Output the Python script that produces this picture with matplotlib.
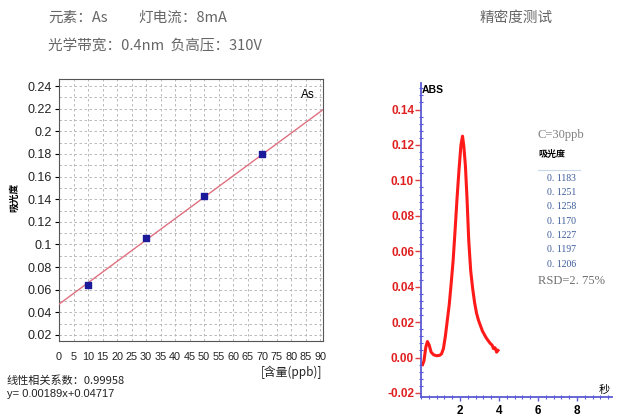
import matplotlib
matplotlib.use("Agg")
import matplotlib.pyplot as plt
from matplotlib.ticker import MultipleLocator, FixedLocator
import numpy as np

plt.rcParams["font.family"] = ["Liberation Sans", "Noto Sans CJK SC", "DejaVu Sans"]

# calibration curve
calib_conc = [10, 30, 50, 70]
calib_abs = [0.064, 0.106, 0.143, 0.180]
slope = 0.00189
intercept = 0.04717
r_value = 0.99958
x_ticks = list(range(0, 95, 5))
y_ticks = [0.02, 0.04, 0.06, 0.08, 0.10, 0.12, 0.14, 0.16, 0.18, 0.20, 0.22, 0.24]

# precision test peak
peak_time = [0.08, 0.15, 0.25, 0.33, 0.42, 0.52, 0.65, 0.8, 0.95, 1.05, 1.15, 1.25,
             1.35, 1.45, 1.55, 1.65, 1.75, 1.85, 1.95, 2.05, 2.13, 2.2, 2.28, 2.36,
             2.45, 2.55, 2.65, 2.75, 2.85, 2.95, 3.05, 3.15, 3.25, 3.35, 3.45, 3.55,
             3.65, 3.72, 3.8, 3.88, 3.95]
peak_abs = [-0.004, -0.002, 0.006, 0.009, 0.007, 0.003, 0.0015, 0.001, 0.0012, 0.002,
            0.005, 0.012, 0.021, 0.030, 0.042, 0.055, 0.072, 0.090, 0.106, 0.120,
            0.125, 0.119, 0.108, 0.090, 0.066, 0.049, 0.039, 0.031, 0.025, 0.021,
            0.018, 0.015, 0.013, 0.011, 0.0095, 0.008, 0.007, 0.005, 0.0055, 0.003,
            0.004]
repeat_abs = [0.1183, 0.1251, 0.1258, 0.1170, 0.1227, 0.1197, 0.1206]
rsd_text = "RSD=2. 75%"

W, H = 628, 417
fig = plt.figure(figsize=(W / 100, H / 100), dpi=100)


def px(x, y):
    return x / W, 1 - y / H


def ax_rect(x0, y0, x1, y1):
    return [x0 / W, 1 - y1 / H, (x1 - x0) / W, (y1 - y0) / H]


# header
head = dict(color="#666666", fontsize=10.5, family=["Noto Sans CJK SC", "DejaVu Sans"], va="center")
fig.text(*px(48, 18), "元素：As", **head)
fig.text(*px(138, 18), "灯电流：8mA", **head)
fig.text(*px(480, 18), "精密度测试", **head)
fig.text(*px(48, 46), "光学带宽：0.4nm  负高压：310V", **head)

# left: calibration
ax = fig.add_axes(ax_rect(59, 79, 323, 341))
xs = np.array([0, 91])
ax.plot(xs, slope * xs + intercept, color="#e07080", lw=1.0, zorder=3)
ax.scatter(calib_conc, calib_abs, marker="s", s=14, color="#1a1a9a", zorder=4)
ax.set_xlim(0, 91)
ax.set_ylim(0.0146, 0.2463)
ax.xaxis.set_major_locator(FixedLocator(x_ticks))
ax.yaxis.set_major_locator(FixedLocator(y_ticks))
ax.yaxis.set_minor_locator(MultipleLocator(0.01))
ax.set_xticklabels([str(v) for v in x_ticks], fontsize=7.8, color="#222222")
ax.set_yticklabels([f"{v:g}" for v in y_ticks], fontsize=9, color="#222222")
ax.tick_params(axis="x", length=0, pad=8)
ax.tick_params(axis="y", which="major", length=3, pad=2)
ax.tick_params(axis="y", which="minor", length=0)
ax.grid(which="both", color="#b0b0b0", lw=0.6, ls=(0, (3, 3)))
for s in ax.spines.values():
    s.set_color("#555555")
    s.set_linewidth(0.8)
ax.text(0.97, 0.96, "As", transform=ax.transAxes, ha="right", va="top", fontsize=8.5)

fig.text(*px(14, 197), "吸光度", rotation=90, ha="center", va="center", fontsize=7,
         fontweight="bold", family=["Noto Sans CJK SC", "DejaVu Sans"])
fig.text(*px(322, 372), "[含量(ppb)]", ha="right", va="center", fontsize=8.5,
         family=["Noto Sans CJK SC", "DejaVu Sans"], color="#222222")
fig.text(*px(7, 381), f"线性相关系数：{r_value}", ha="left", va="center", fontsize=8,
         family=["Noto Sans CJK SC", "DejaVu Sans"], color="#222222")
fig.text(*px(7, 394), f"y= {slope}x+{intercept}", ha="left", va="center", fontsize=8,
         color="#222222")

# right: precision peak
blue = "#5a5ad6"
ax2 = fig.add_axes(ax_rect(421, 83, 612, 397))
ax2.plot(peak_time, peak_abs, color="#ff1a1a", lw=2.2, solid_joinstyle="round")
ax2.set_xlim(0, 9.8)
ax2.set_ylim(-0.0223, 0.155)
ax2.spines["top"].set_visible(False)
ax2.spines["right"].set_visible(False)
for s in ("left", "bottom"):
    ax2.spines[s].set_color(blue)
    ax2.spines[s].set_linewidth(1.3)
ax2.xaxis.set_major_locator(FixedLocator([2, 4, 6, 8]))
ax2.xaxis.set_minor_locator(MultipleLocator(0.4))
ax2.yaxis.set_minor_locator(MultipleLocator(0.004))
y2_ticks = [-0.02, 0.0, 0.02, 0.04, 0.06, 0.08, 0.10, 0.12, 0.14]
ax2.set_yticks(y2_ticks)
ax2.set_yticklabels([f"{v:.2f}" for v in y2_ticks], fontsize=8.5, fontweight="bold",
                    color="#e02020")
ax2.set_xticklabels(["2", "4", "6", "8"], fontsize=8.5, fontweight="bold")
ax2.tick_params(axis="y", which="major", length=4, width=1, color="#e04040", pad=1)
ax2.tick_params(axis="x", which="major", length=3, width=1, color=blue, pad=3)
ax2.tick_params(which="minor", length=3, width=0.8, color=blue, direction="inout")

fig.text(*px(422, 90), "ABS", ha="left", va="center", fontsize=7.5, fontweight="bold")
fig.text(*px(604, 390), "秒", ha="center", va="center", fontsize=8,
         family=["Noto Sans CJK SC", "DejaVu Sans"])

serif = ["Liberation Serif", "DejaVu Serif"]
fig.text(*px(537, 135), "C=30ppb", ha="left", va="center", fontsize=9, color="#808080",
         family=serif)
fig.text(*px(538, 154), "吸光度", ha="left", va="center", fontsize=6.5, fontweight="bold",
         family=["Noto Sans CJK SC", "DejaVu Sans"])
fig.add_artist(plt.Line2D([538 / W, 580 / W], [1 - 170 / H, 1 - 170 / H],
                          color="#c8d8e8", lw=0.8))
for i, v in enumerate(repeat_abs):
    fig.text(*px(547, 178.3 + i * 14.3), f"{v:.4f}".replace(".", ". "), ha="left",
             va="center", fontsize=7, color="#3a5a9a", family=serif)
fig.text(*px(538, 281), rsd_text, ha="left", va="center", fontsize=9, color="#707070",
         family=serif)

fig.savefig("out.png", dpi=100)
